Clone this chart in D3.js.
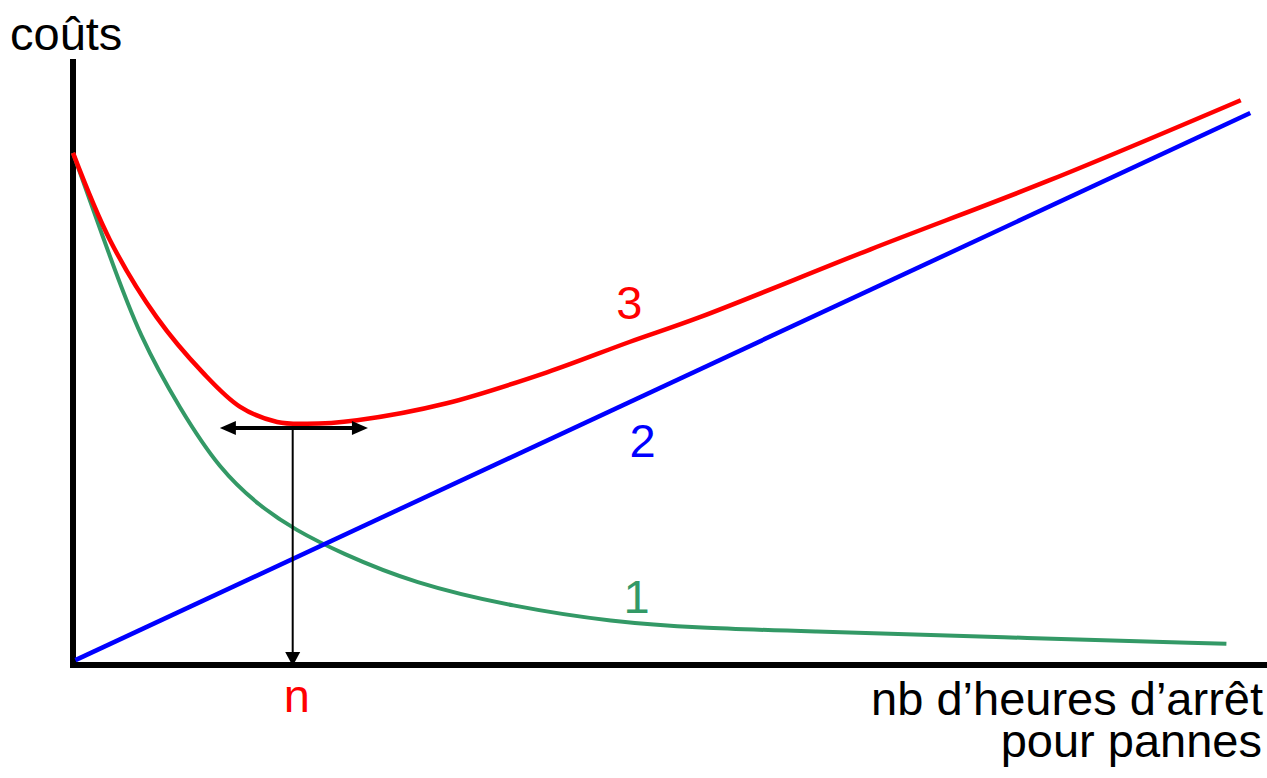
<!DOCTYPE html>
<html>
<head>
<meta charset="utf-8">
<script src="https://cdn.jsdelivr.net/npm/d3@7"></script>
<style>
  html, body { margin: 0; padding: 0; background: #fff; }
  svg text { font-family: "Liberation Sans", Arial, sans-serif; font-size: 47px; }
</style>
</head>
<body>
<svg id="chart" width="1267" height="778"></svg>
<script>
// curve 1 : maintenance costs (decreasing)
const curve1X = [0, 3.1, 5.6, 9.0, 12.3, 15.7, 18.6, 22.4, 28.5, 36.9, 45.2, 52.5, 60.9, 77.6, 96.6];
const curve1Y = [84.5, 67.3, 54.1, 42.1, 32.2, 26.1, 22.3, 18.5, 13.5, 9.6, 7.1, 6.1, 5.6, 4.6, 3.5];
// curve 2 : breakdown costs (linear)
const curve2X = [0.2, 98.6];
const curve2Y = [0.8, 91.1];
// curve 3 : total
const curve3X = [0, 3.1, 7.0, 10.9, 14.0, 17.1, 19.6, 23.8, 31.3, 39.7, 46.6, 52.5, 66.8, 81.8, 97.8];
const curve3Y = [84.5, 70.1, 57.4, 48.2, 42.6, 40.1, 39.8, 40.4, 43.2, 48.3, 53.3, 57.4, 68.6, 80.0, 93.2];

const labels = ['1', '2', '3'];
const labelX = [47.2, 47.7, 46.6];
const labelY = [8.6, 34.3, 57.1];

// optimum
const optimumX = 18.4;
const optimumY = 39.1;
const arrowSpan = [12.3, 24.7];

const svg = d3.select('#chart');

const x = d3.scaleLinear().domain([0, 100]).range([73, 1267]);
const y = d3.scaleLinear().domain([0, 100]).range([665, 59]);

const smoothLine = d3.line()
    .x(d => x(d[0]))
    .y(d => y(d[1]))
    .curve(d3.curveBasis);
const line = d3.line()
    .x(d => x(d[0]))
    .y(d => y(d[1]))
    .curve(d3.curveCatmullRom.alpha(0.5));

// axes
svg.append('line')
    .attr('x1', x(0)).attr('x2', x(0))
    .attr('y1', y(100)).attr('y2', y(0) + 3)
    .style('stroke', '#000').style('stroke-width', 6);
svg.append('line')
    .attr('x1', x(0) - 3).attr('x2', x(100))
    .attr('y1', y(0)).attr('y2', y(0))
    .style('stroke', '#000').style('stroke-width', 6);

const series = [
    {xs: curve1X, ys: curve1Y, color: '#339966', width: 4, gen: smoothLine},
    {xs: curve2X, ys: curve2Y, color: '#0000ff', width: 4.5, gen: line},
    {xs: curve3X, ys: curve3Y, color: '#ff0000', width: 4.5, gen: line}
];

series.forEach(function(s, i){
    const pts = s.xs.map((v, j) => [v, s.ys[j]]);
    svg.append('path')
        .attr('d', s.gen(pts))
        .style('fill', 'none')
        .style('stroke', s.color)
        .style('stroke-width', s.width);

    svg.append('text')
        .text(labels[i])
        .attr('x', x(labelX[i]))
        .attr('y', y(labelY[i]))
        .attr('text-anchor', 'middle')
        .style('fill', s.color);
});

// horizontal double arrow at the minimum
const ay = y(optimumY);
const x0 = x(arrowSpan[0]), x1 = x(arrowSpan[1]);
svg.append('line')
    .attr('x1', x0 + 10).attr('x2', x1 - 10)
    .attr('y1', ay).attr('y2', ay)
    .style('stroke', '#000').style('stroke-width', 4);
svg.append('path')
    .attr('d', `M${x0},${ay} L${x0 + 16},${ay - 7} L${x0 + 16},${ay + 7} Z`)
    .style('fill', '#000');
svg.append('path')
    .attr('d', `M${x1},${ay} L${x1 - 16},${ay - 7} L${x1 - 16},${ay + 7} Z`)
    .style('fill', '#000');

// vertical arrow down to n
const nx = x(optimumX);
svg.append('line')
    .attr('x1', nx).attr('x2', nx)
    .attr('y1', ay).attr('y2', y(0) - 10)
    .style('stroke', '#000').style('stroke-width', 2);
svg.append('path')
    .attr('d', `M${nx},${y(0) + 1} L${nx - 7.5},${y(0) - 13} L${nx + 7.5},${y(0) - 13} Z`)
    .style('fill', '#000');

svg.append('text')
    .text('n')
    .attr('x', nx + 4)
    .attr('y', 712)
    .attr('text-anchor', 'middle')
    .style('fill', '#ff0000');

// axis titles
svg.append('text')
    .text('coûts')
    .attr('x', 10)
    .attr('y', 50)
    .style('fill', '#000');

svg.append('text')
    .text('nb d’heures d’arrêt')
    .attr('x', 1263)
    .attr('y', 715)
    .attr('text-anchor', 'end')
    .style('fill', '#000');
svg.append('text')
    .text('pour pannes')
    .attr('x', 1262)
    .attr('y', 757)
    .attr('text-anchor', 'end')
    .style('fill', '#000');
</script>
</body>
</html>
